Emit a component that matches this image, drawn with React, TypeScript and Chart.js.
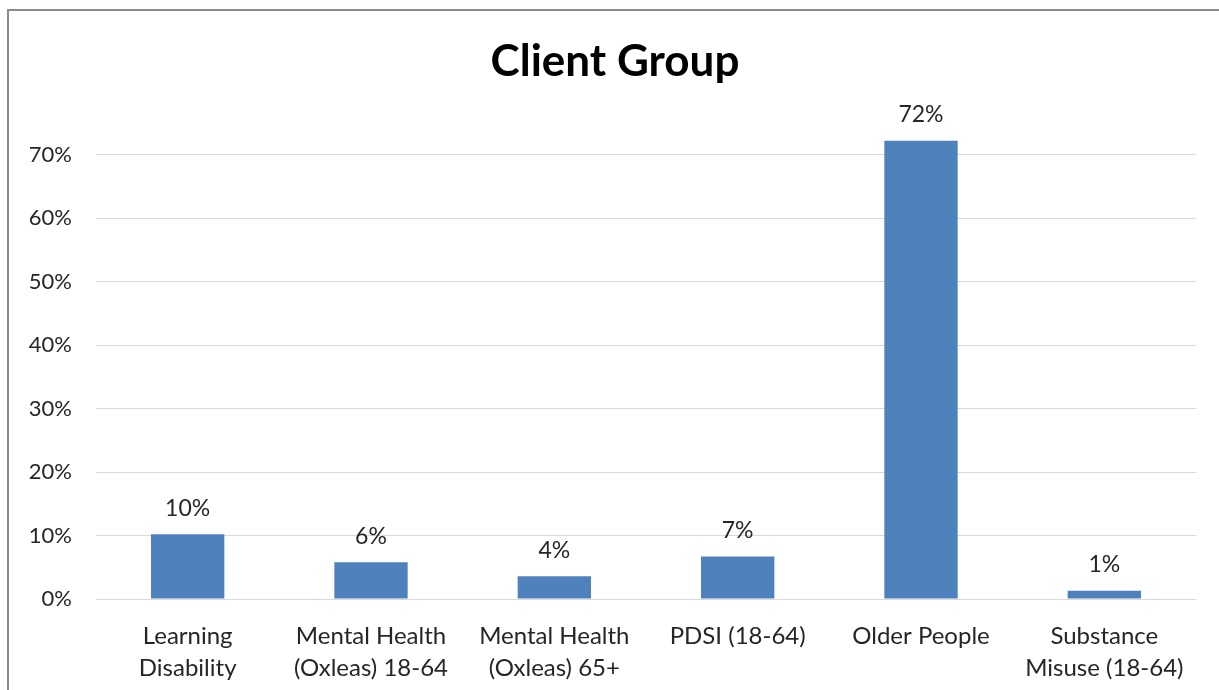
import React, { useEffect, useRef } from "react";
import { Chart, registerables } from "chart.js";

Chart.register(...registerables);

const categories: (string | string[])[] = [
  ["Learning", "Disability"],
  ["Mental Health", "(Oxleas) 18-64"],
  ["Mental Health", "(Oxleas) 65+"],
  "PDSI (18-64)",
  "Older People",
  ["Substance", "Misuse (18-64)"],
];
const values: number[] = [10.2, 5.8, 3.6, 6.7, 72.2, 1.3];
const tickValues: number[] = [0, 10, 20, 30, 40, 50, 60, 70];
const titleText = "Client Group";

const FONT = "Lato, 'Noto Sans', sans-serif";

const dataLabelPlugin = {
  id: "dataLabels",
  afterDatasetsDraw(chart: any) {
    const ctx = chart.ctx;
    const meta = chart.getDatasetMeta(0);
    ctx.save();
    ctx.font = `23px ${FONT}`;
    ctx.fillStyle = "#262626";
    ctx.textAlign = "center";
    ctx.textBaseline = "middle";
    meta.data.forEach((bar: any, i: number) => {
      const v = chart.data.datasets[0].data[i] as number;
      ctx.fillText(Math.round(v) + "%", bar.x, bar.y - 26);
    });
    ctx.restore();
  },
};

const titlePlugin = {
  id: "customTitle",
  afterDraw(chart: any) {
    const ctx = chart.ctx;
    ctx.save();
    ctx.font = `bold 44px ${FONT}`;
    ctx.fillStyle = "#000000";
    ctx.textAlign = "center";
    ctx.textBaseline = "middle";
    ctx.fillText(titleText, 615, 62);
    ctx.restore();
  },
};

export default function App() {
  const ref = useRef<HTMLCanvasElement>(null);
  useEffect(() => {
    if (!ref.current) return;
    const chart = new Chart(ref.current, {
      type: "bar",
      data: {
        labels: categories,
        datasets: [
          {
            data: values,
            backgroundColor: "#4F81BD",
            barPercentage: 0.4,
            categoryPercentage: 1,
          },
        ],
      },
      options: {
        animation: false,
        responsive: false,
        layout: { padding: { top: 123, right: 23, bottom: 0, left: 0 } },
        plugins: {
          legend: { display: false },
          tooltip: { enabled: false },
          title: { display: false },
        },
        scales: {
          x: {
            grid: { display: false },
            border: { display: false },
            ticks: {
              color: "#262626",
              font: { family: FONT, size: 24, lineHeight: 1.333 },
              padding: 13,
              maxRotation: 0,
              autoSkip: false,
            },
            afterFit: (s: any) => {
              s.height = 91;
            },
          },
          y: {
            min: 0,
            max: 75,
            grid: { color: "#D9D9D9", drawTicks: false, lineWidth: 1 },
            border: { display: false },
            afterBuildTicks: (axis: any) => {
              axis.ticks = tickValues.map((v) => ({ value: v }));
            },
            afterFit: (s: any) => {
              s.width = 96;
            },
            ticks: {
              color: "#262626",
              font: { family: FONT, size: 22 },
              padding: 24,
              callback: (v: any) => v + "%",
            },
          },
        },
      },
      plugins: [dataLabelPlugin, titlePlugin],
    });
    return () => chart.destroy();
  }, []);

  return (
    <>
      <div
        style={{
          position: "fixed",
          left: 7,
          top: 9,
          width: 1212,
          height: 681,
          borderLeft: "2px solid #8a8a8a",
          borderTop: "2px solid #8a8a8a",
          boxSizing: "border-box",
          background: "#ffffff",
        }}
      />
      <canvas
        ref={ref}
        width={1219}
        height={690}
        style={{ position: "fixed", left: 0, top: 0, width: 1219, height: 690 }}
      />
    </>
  );
}
